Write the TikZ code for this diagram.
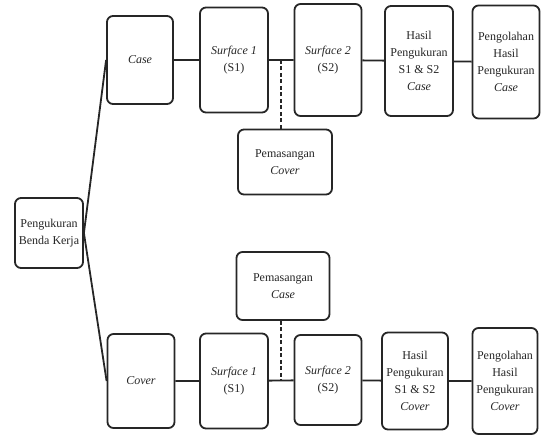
\documentclass[tikz,border=0pt]{standalone}
\usepackage{fontspec}
\setmainfont{Liberation Serif}
\usetikzlibrary{calc}
\tikzset{every node/.append style={align=center}}
\tikzset{
  stepbox/.style={draw=black!85, line width=1.8pt, rounded corners=6pt,
                  fill=white, inner sep=2pt, text=black!85,
                  font=\fontsize{12}{17}\selectfont},
  link/.style={line width=1.8pt, draw=black!85},
  mountlink/.style={line width=1.6pt, draw=black!85, dash pattern=on 4pt off 2.5pt}
}

\begin{document}
\begin{tikzpicture}[x=1pt, y=-1pt]
\useasboundingbox (0,0) rectangle (542,437);

% ── Root ─────────────────────────────────────────────────────────────────────
\node[stepbox, minimum width=68pt, minimum height=70pt] (root) at (49,233)
      {Pengukuran\\Benda Kerja};

% ── Case branch (top) ────────────────────────────────────────────────────────
\node[stepbox, minimum width=66pt, minimum height=88pt] (case) at (140,60) {\textit{Case}};
\node[stepbox, minimum width=68pt, minimum height=105pt] (caseS1) at (234,60)
      {\textit{Surface 1}\\(S1)};
\node[stepbox, minimum width=67pt, minimum height=112pt] (caseS2) at (328,60)
      {\textit{Surface 2}\\(S2)};
\node[stepbox, minimum width=68pt, minimum height=110pt] (caseHasil) at (419,61)
      {Hasil\\Pengukuran\\S1 \& S2\\\textit{Case}};
\node[stepbox, minimum width=67pt, minimum height=113pt] (caseOlah) at (506,62)
      {Pengolahan\\Hasil\\Pengukuran\\\textit{Case}};
\node[stepbox, minimum width=94pt, minimum height=65pt] (mountCover) at (285,162)
      {Pemasangan\\\textit{Cover}};

% ── Cover branch (bottom) ────────────────────────────────────────────────────
\node[stepbox, minimum width=67pt, minimum height=94pt] (cover) at (141,381) {\textit{Cover}};
\node[stepbox, minimum width=68pt, minimum height=95pt] (coverS1) at (234,381)
      {\textit{Surface 1}\\(S1)};
\node[stepbox, minimum width=67pt, minimum height=90pt] (coverS2) at (328,380)
      {\textit{Surface 2}\\(S2)};
\node[stepbox, minimum width=66pt, minimum height=97pt] (coverHasil) at (415,381)
      {Hasil\\Pengukuran\\S1 \& S2\\\textit{Cover}};
\node[stepbox, minimum width=65pt, minimum height=106pt] (coverOlah) at (505,381)
      {Pengolahan\\Hasil\\Pengukuran\\\textit{Cover}};
\node[stepbox, minimum width=93pt, minimum height=68pt] (mountCase) at (283,286)
      {Pemasangan\\\textit{Case}};

% Connectors
\draw[link] (root.east) -- (case.west);
\draw[link] (root.east) -- (cover.west);
\draw[link] (case) -- (caseS1) -- (caseS2) -- (caseHasil) -- (caseOlah);
\draw[link] (cover) -- (coverS1) -- (coverS2) -- (coverHasil) -- (coverOlah);

% Mounting steps (dashed)
\coordinate (capTop) at ($(caseS1.east)!0.5!(caseS2.west)$);
\coordinate (capBot) at ($(coverS1.east)!0.5!(coverS2.west)$);
\draw[mountlink] (mountCover.north -| capTop) -- (capTop);
\draw[mountlink] (mountCase.south -| capBot) -- (capBot);

\end{tikzpicture}
\end{document}
